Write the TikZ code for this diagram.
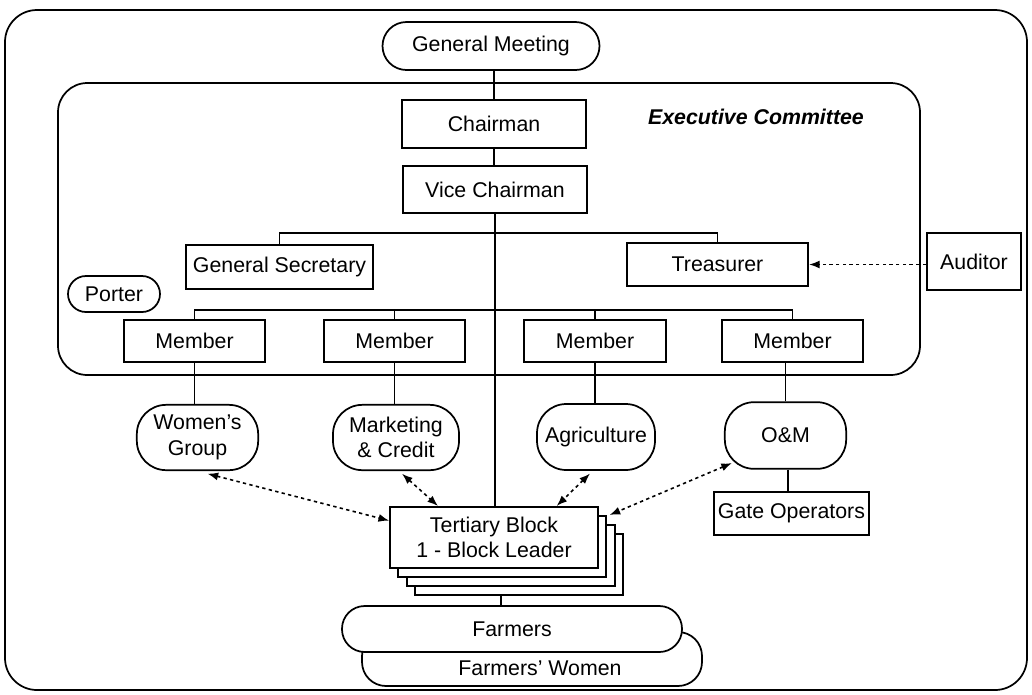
\documentclass[tikz,border=0pt]{standalone}
\usepackage{fontspec}
\setmainfont{Liberation Sans}
\usetikzlibrary{arrows.meta,calc}
\begin{document}
\begin{tikzpicture}[x=0.75pt,y=-0.75pt,
  every node/.style={font=\fontsize{16}{19}\selectfont},
  box/.style={draw,line width=1.3pt,fill=white,rectangle,inner sep=0pt,align=center},
  pill/.style={box,rounded corners=#1},
  ln/.style={line width=1.3pt},
  dl/.style={line width=1.2pt,dash pattern=on 2.5pt off 2.5pt,{Latex[length=8pt,width=6pt]}-{Latex[length=8pt,width=6pt]}},
  sl/.style={line width=1.2pt,dash pattern=on 2.5pt off 2.5pt,-{Latex[length=8pt,width=6pt]}},
]
\useasboundingbox (0,0) rectangle (1032,694);
% frames
\draw[ln,rounded corners=24pt] (5,10) rectangle (1027,690);
\draw[ln,rounded corners=22pt] (58,83) rectangle (920,375);

\node[pill=18pt,minimum width=162.75pt,minimum height=36pt] (gm) at (491,46) {General Meeting};
\node[box,minimum width=138pt,minimum height=36pt] (ch) at (494,124) {Chairman};
\node[box,minimum width=138pt,minimum height=35pt] (vc) at (495,189.5) {Vice Chairman};
\node[font=\fontsize{16}{19}\selectfont\bfseries\itshape] (ec) at (756,117) {Executive Committee};
\node[box,minimum width=140pt,minimum height=33pt] (gs) at (279.5,267) {General Secretary};
\node[box,minimum width=136pt,minimum height=32pt] (tr) at (717.5,264.5) {Treasurer};
\node[box,minimum width=70.5pt,minimum height=43pt] (au) at (974,261.5) {Auditor};
\node[pill=13.5pt,minimum width=69pt,minimum height=27pt] (po) at (114,294) {Porter};

\node[box,minimum width=106pt,minimum height=31pt] (m1) at (194.5,341) {Member};
\node[box,minimum width=106pt,minimum height=31pt] (m2) at (394.5,341) {Member};
\node[box,minimum width=106pt,minimum height=31pt] (m3) at (595,341) {Member};
\node[box,minimum width=106pt,minimum height=31pt] (m4) at (792.5,341) {Member};

\node[pill=22pt,minimum width=91pt,minimum height=49pt] (wg) at (197.5,437.5) {Women's\\Group};
\node[pill=22pt,minimum width=94.5pt,minimum height=49pt] (mc) at (396,437.5) {Marketing\\\& Credit};
\node[pill=22pt,minimum width=88.5pt,minimum height=49.5pt] (ag) at (596,437) {Agriculture};
\node[pill=22pt,minimum width=91pt,minimum height=50pt] (om) at (785.5,435.5) {O\&M};
\node[box,minimum width=116pt,minimum height=32pt] (go) at (791.5,513.5) {Gate Operators};

\node[box,minimum width=156pt,minimum height=46pt] (tb3) at (519,564.5) {};
\node[box,minimum width=156pt,minimum height=46pt] (tb2) at (511,555.5) {};
\node[box,minimum width=156pt,minimum height=46pt] (tb1) at (502,546.5) {};
\node[box,minimum width=156pt,minimum height=46pt] (tb) at (494,537.5) {Tertiary Block\\1 - Block Leader};

\node[pill=18pt,minimum width=255pt,minimum height=40.5pt] (fw) at (532,659) {};
\node (fwt) at (540,668) {Farmers' Women};
\node[pill=17pt,minimum width=255pt,minimum height=34.5pt] (fa) at (512,629) {Farmers};

% connectors
\draw[ln] (ch.north) -- (ch.north |- gm.south);
\draw[ln] (ch.south) -- (ch.south |- vc.north);
\draw[ln] (vc.south) -- (vc.south |- tb.north);
\coordinate (b1) at (495,233);
\draw[ln] (gs.north) |- (b1) -| (tr.north);
\coordinate (b2) at (495,310);
\draw[ln] (m1.north) |- (b2) -| (m4.north);
\draw[ln] (m2.north) -- (m2.north |- b2);
\draw[ln] (m3.north) -- (m3.north |- b2);
\draw[ln] (m1.south) -- (m1.south |- wg.north);
\draw[ln] (m2.south) -- (m2.south |- mc.north);
\draw[ln] (m3.south) -- (m3.south |- ag.north);
\draw[ln] (om.north) -- (om.north |- m4.south);
\draw[ln] ([xshift=2pt]om.south) -- ([xshift=2pt]om.south |- go.north);
\draw[ln] ([xshift=-13.5pt]tb3.south) -- ([xshift=-13.5pt]tb3.south |- fa.north);

\draw[sl] (au.west |- tr.east) -- (tr.east);
\draw[dl] ([xshift=7.5pt,yshift=-2pt]wg.south) -- ([yshift=-11pt]tb.north west);
\draw[dl] ([xshift=4.5pt,yshift=-2pt]mc.south) -- ([xshift=-42pt]tb.north);
\draw[dl] ([xshift=-4.5pt,yshift=-2pt]ag.south) -- ([xshift=47pt]tb.north);
\draw[dl] ([xshift=6pt,yshift=5pt]om.south west) -- ([xshift=2pt]tb1.north east);
\end{tikzpicture}
\end{document}
